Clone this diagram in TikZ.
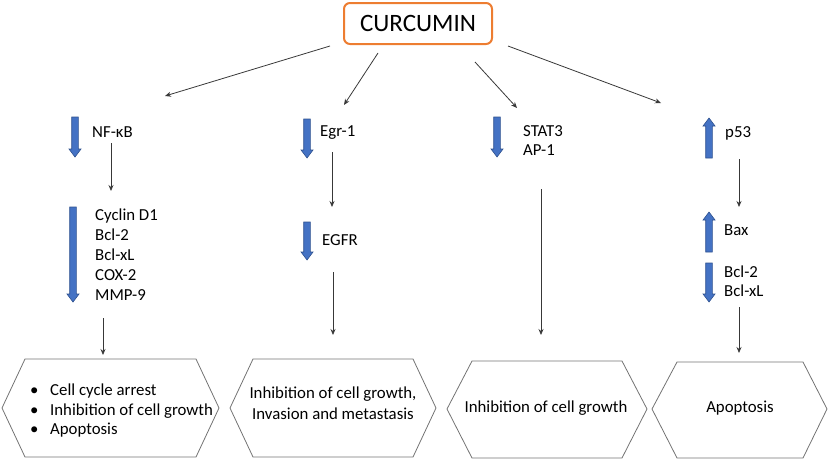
\documentclass[tikz,border=0pt]{standalone}
\usepackage{fontspec}
\setmainfont{Carlito}
\usetikzlibrary{arrows.meta}
\definecolor{curorange}{HTML}{ED7D31}
\definecolor{bluefill}{HTML}{4472C4}
\definecolor{blueline}{HTML}{2F528F}
\tikzset{
  lbl/.style={anchor=base west, font=\fontsize{16.8}{20}\selectfont, inner sep=0pt, align=left},
  lbls/.style={anchor=west, font=\fontsize{16.8}{20}\selectfont, inner sep=0pt, align=left},
  conn/.style={draw=black!78, line width=0.8pt, -{Stealth[length=6pt,width=5pt]}},
  hexline/.style={draw=black!55, line width=0.8pt},
  hextext/.style={font=\fontsize{16.8}{21}\selectfont, align=center, inner sep=0pt},
  bluearr/.style={fill=bluefill, draw=blueline, line width=0.6pt},
}
\newcommand\bluedown[3]{%
  \path[bluearr] (#1-3.3,#2) -- (#1+3.3,#2) -- (#1+3.3,#3-8) -- (#1+6,#3-8) -- (#1,#3) -- (#1-6,#3-8) -- (#1-3.3,#3-8) -- cycle;}
\newcommand\blueup[3]{%
  \path[bluearr] (#1-3.3,#3) -- (#1+3.3,#3) -- (#1+3.3,#2+8) -- (#1+6,#2+8) -- (#1,#2) -- (#1-6,#2+8) -- (#1-3.3,#2+8) -- cycle;}
\begin{document}
\begin{tikzpicture}[x=1pt,y=-1pt]
\useasboundingbox (0,0) rectangle (829,461);

% title
\node[draw=curorange, line width=2pt, rounded corners=6pt, minimum width=148pt, minimum height=41pt,
      inner sep=0pt, font=\fontsize{25}{30}\selectfont] (cur) at (418,23.5) {CURCUMIN};

% arrows from curcumin
\coordinate (a1s) at (330,46);  \coordinate (a1e) at (165,96);
\coordinate (a2s) at (378,53);  \coordinate (a2e) at (344,105);
\coordinate (a3s) at (475,62);  \coordinate (a3e) at (517,108);
\coordinate (a4s) at (508,46);  \coordinate (a4e) at (661,103);
\draw[conn] (a1s) -- (a1e);
\draw[conn] (a2s) -- (a2e);
\draw[conn] (a3s) -- (a3e);
\draw[conn] (a4s) -- (a4e);

% column 1
\bluedown{75}{117}{157}
\node[lbl] (nfkb) at (92,137.3) {NF-κB};
\bluedown{73}{207}{302}
\node[lbls] (cyc) at (95,255) {Cyclin D1\\Bcl-2\\Bcl-xL\\COX-2\\MMP-9};
\coordinate (c1a) at (111,143); \coordinate (c1b) at (111,191);
\coordinate (c1c) at (103,318); \coordinate (c1d) at (103,355);
\draw[conn] (c1a) -- (c1b);
\draw[conn] (c1c) -- (c1d);

% column 2
\bluedown{307}{119}{158}
\node[lbl] (egr) at (320,136.5) {Egr-1};
\bluedown{307}{222}{260}
\node[lbl] (egfr) at (322,245.5) {EGFR};
\coordinate (c2a) at (332,152); \coordinate (c2b) at (332,207);
\coordinate (c2c) at (333,272); \coordinate (c2d) at (333,335);
\draw[conn] (c2a) -- (c2b);
\draw[conn] (c2c) -- (c2d);

% column 3
\bluedown{497}{117}{157}
\node[lbls, font=\fontsize{16.8}{19}\selectfont] (stat) at (523,140.5) {STAT3\\AP-1};
\coordinate (c3a) at (541,189); \coordinate (c3b) at (541,335);
\draw[conn] (c3a) -- (c3b);

% column 4
\blueup{709}{118}{158}
\node[lbl] (p53) at (725,137.5) {p53};
\blueup{709}{212}{252}
\node[lbl] (bax) at (724,235.5) {Bax};
\bluedown{709}{263}{302}
\node[lbls, font=\fontsize{16.8}{19}\selectfont] (bcl) at (724,281) {Bcl-2\\Bcl-xL};
\coordinate (c4a) at (739,159); \coordinate (c4b) at (739,207);
\coordinate (c4c) at (739,307); \coordinate (c4d) at (739,353);
\draw[conn] (c4a) -- (c4b);
\draw[conn] (c4c) -- (c4d);

% hexagons
\draw[hexline] (2,408) -- (25,359) -- (196,359) -- (219,408) -- (196,457) -- (25,457) -- cycle;
\draw[hexline] (230,408) -- (253,359) -- (413,359) -- (436,408) -- (413,457) -- (253,457) -- cycle;
\draw[hexline] (447,409) -- (472,361) -- (622,361) -- (647,409) -- (622,458) -- (472,458) -- cycle;
\draw[hexline] (652,409) -- (677,362) -- (803,362) -- (827,409) -- (803,458) -- (677,458) -- cycle;

\node[lbls, font=\fontsize{16.8}{19.5}\selectfont] (h1) at (30,411)
  {\makebox[20pt][l]{•}Cell cycle arrest\\\makebox[20pt][l]{•}Inhibition of cell growth\\\makebox[20pt][l]{•}Apoptosis};
\node[hextext] (h2) at (333,403) {Inhibition of cell growth,\\Invasion and metastasis};
\node[hextext, anchor=base] (h3) at (546,412.5) {Inhibition of cell growth};
\node[hextext, anchor=base] (h4) at (740,412.5) {Apoptosis};
\end{tikzpicture}
\end{document}
